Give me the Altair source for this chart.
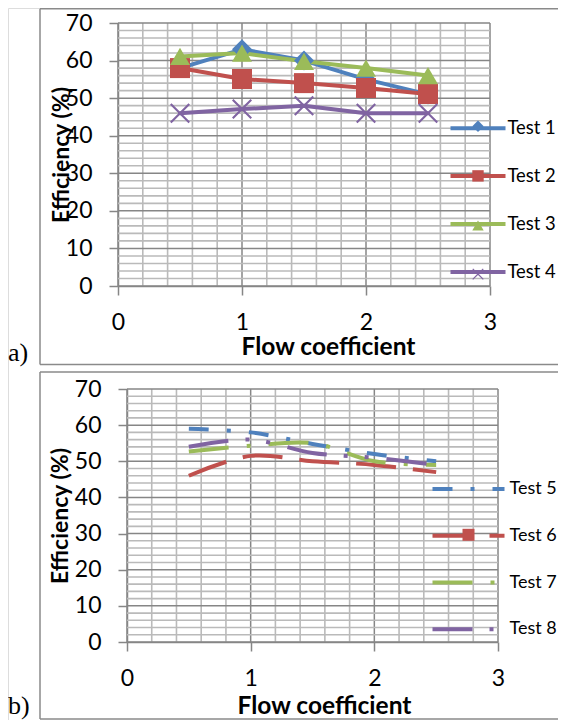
import altair as alt
import pandas as pd

# ---------------- data ----------------
FLOW = [0.5, 1.0, 1.5, 2.0, 2.5]

SERIES_A = ["Test 1", "Test 2", "Test 3", "Test 4"]
TEST_1 = [58.0, 63.0, 60.0, 55.0, 51.0]
TEST_2 = [58.0, 55.1, 54.0, 52.7, 51.1]
TEST_3 = [61.1, 62.0, 59.8, 58.0, 56.0]
TEST_4 = [46.0, 47.1, 48.0, 46.0, 46.0]

SERIES_B = ["Test 5", "Test 6", "Test 7", "Test 8"]
TEST_5 = [59.0, 58.0, 54.8, 52.0, 50.0]
TEST_6 = [46.0, 51.5, 50.0, 49.0, 47.0]
TEST_7 = [52.7, 54.3, 55.0, 50.0, 49.0]
TEST_8 = [54.0, 56.0, 52.3, 51.0, 49.0]

X_TICKS = [0, 1, 2, 3]
Y_TICKS = [0, 10, 20, 30, 40, 50, 60, 70]
X_MINOR = [0.2, 0.4, 0.6, 0.8, 1.2, 1.4, 1.6, 1.8, 2.2, 2.4, 2.6, 2.8]
Y_MINOR = [2, 4, 6, 8, 12, 14, 16, 18, 22, 24, 26, 28, 32, 34, 36, 38,
           42, 44, 46, 48, 52, 54, 56, 58, 62, 64, 66, 68]

# ---------------- styles ----------------
COLORS = ["#4F81BD", "#C0504D", "#9BBB59", "#8064A2"]
X_PATH = ("M-1,-0.85L-0.85,-1L0,-0.15L0.85,-1L1,-0.85L0.15,0L1,0.85L0.85,1"
          "L0,0.15L-0.85,1L-1,0.85L-0.15,0Z")
SHAPES = ["diamond", "square", "triangle-up", X_PATH]
DASHES = [[20, 18, 4, 18], [40, 17], [40, 18, 4, 18], [40, 17, 4, 17, 4, 18]]
MAJOR_C = "#868686"
MINOR_C = "#bababa"
FRAME_C = "#8a8a8a"
FONT = "Lato"

W, H = 550, 712                      # whole view: fits the page inside its 8px margins
TOP = dict(x0=110, x1=482, y0=278, y1=15)
BOT = dict(x0=119, x1=490, y0=634, y1=381)


def long_df(series, values):
    rows = []
    for s, vals in zip(series, values):
        for f, v in zip(FLOW, vals):
            rows.append({"flow": f, "eff": v, "series": s, "mk": s})
    return pd.DataFrame(rows)


df_a = long_df(SERIES_A, [TEST_1, TEST_2, TEST_3, TEST_4])
df_b = long_df(SERIES_B, [TEST_5, TEST_6, TEST_7, TEST_8])
one = pd.DataFrame({"k": [0]})


def scales(g):
    xs = alt.Scale(domain=[0, 3], range=[g["x0"], g["x1"]], nice=False, zero=False)
    ys = alt.Scale(domain=[0, 70], range=[g["y0"], g["y1"]], nice=False, zero=False)
    return xs, ys


def axes(g, title_x, title_y, ytitle_x):
    common = dict(grid=False, domainColor=MAJOR_C, domainWidth=1.5, tickColor=MAJOR_C,
                  tickWidth=1.5, tickSize=9, labelFont=FONT, labelFontSize=23,
                  labelColor="black", labelFlush=False, labelOverlap=False, format="d",
                  titleFont=FONT, titleFontWeight="bold",
                  titleColor="black", titleAlign="center", titleBaseline="alphabetic")
    ax_x = alt.Axis(orient="bottom", values=X_TICKS, offset=g["y0"] - H, labelPadding=16,
                    title="Flow coefficient", titleX=title_x, titleY=title_y, titleAngle=0,
                    titleFontSize=24.5, **common)
    ax_y = alt.Axis(orient="left", values=Y_TICKS, offset=-g["x0"], labelPadding=17,
                    title="Efficiency (%)", titleX=ytitle_x,
                    titleY=(g["y0"] + g["y1"]) / 2, titleAngle=270, titleFontSize=23,
                    **common)
    return ax_x, ax_y


def grid_layers(xs, ys, ax_x, ax_y):
    out = []
    for vals, color, sw in [(X_MINOR, MINOR_C, 1.6), (X_TICKS, MAJOR_C, 1.5)]:
        out.append(alt.Chart(pd.DataFrame({"v": vals})).mark_rule(color=color, strokeWidth=sw).encode(
            x=alt.X("v:Q", scale=xs, axis=ax_x),
            y=alt.YDatum(0, type="quantitative", scale=ys, axis=ax_y),
            y2=alt.Y2Datum(70)))
    for vals, color, sw in [(Y_MINOR, MINOR_C, 1.6), (Y_TICKS, MAJOR_C, 1.5)]:
        out.append(alt.Chart(pd.DataFrame({"v": vals})).mark_rule(color=color, strokeWidth=sw).encode(
            y=alt.Y("v:Q", scale=ys, axis=ax_y),
            x=alt.XDatum(0, type="quantitative", scale=xs, axis=ax_x),
            x2=alt.X2Datum(3)))
    return out


def frame_layers(top, bottom, label, label_y):
    rule = dict(color=FRAME_C, strokeWidth=1.5)
    left, right = 32, 600
    return [
        alt.Chart(one).mark_rule(**rule).encode(
            x=alt.value(left), x2=alt.value(right), y=alt.value(top)),
        alt.Chart(one).mark_rule(**rule).encode(
            x=alt.value(left), x2=alt.value(right), y=alt.value(bottom)),
        alt.Chart(one).mark_rule(**rule).encode(
            x=alt.value(left), y=alt.value(top), y2=alt.value(bottom)),
        alt.Chart(one).mark_text(text=label, font="Liberation Serif", fontSize=26,
                                 align="left", baseline="alphabetic", color="black").encode(
            x=alt.value(0), y=alt.value(label_y)),
    ]


# ---------------- panel a ----------------
xs_a, ys_a = scales(TOP)
ax_xa, ax_ya = axes(TOP, 320, 68.5, -50)

leg_line_a = alt.Legend(orient="none", legendX=458, legendY=108.2, title=None,
                        symbolType="M-2.75,0L2.75,0", symbolSize=400, symbolStrokeWidth=4,
                        labelFont=FONT, labelFontSize=18.4, labelColor="black",
                        labelOffset=17.5, rowPadding=25.9, padding=0, symbolOffset=0)
leg_mark_a = alt.Legend(orient="none", legendX=464, legendY=112.3, title=None,
                        symbolSize=130, symbolStrokeWidth=0, labelFontSize=1,
                        labelOpacity=0, rowPadding=37.6, padding=0, symbolOffset=0)

lines_a = alt.Chart(df_a).mark_line(strokeWidth=4, strokeCap="round", strokeJoin="round").encode(
    x=alt.X("flow:Q", scale=xs_a, axis=ax_xa),
    y=alt.Y("eff:Q", scale=ys_a, axis=ax_ya),
    stroke=alt.Stroke("series:N", scale=alt.Scale(range=COLORS), legend=leg_line_a))
points_a = alt.Chart(df_a).mark_point(filled=True, size=400, opacity=1).encode(
    x=alt.X("flow:Q", scale=xs_a, axis=ax_xa),
    y=alt.Y("eff:Q", scale=ys_a, axis=ax_ya),
    fill=alt.Fill("mk:N", scale=alt.Scale(range=COLORS), legend=leg_mark_a),
    shape=alt.Shape("mk:N", scale=alt.Scale(range=SHAPES), legend=leg_mark_a))

panel_a = alt.layer(*frame_layers(0.75, 356.5, "a)", 353),
                    *grid_layers(xs_a, ys_a, ax_xa, ax_ya), lines_a, points_a)

# ---------------- panel b ----------------
xs_b, ys_b = scales(BOT)
ax_xb, ax_yb = axes(BOT, 316, 71, -60)

leg_line_b = alt.Legend(orient="none", legendX=448.5, legendY=468.9, title=None,
                        symbolType="M-3.6,0L3.6,0", symbolSize=400, symbolStrokeWidth=4,
                        labelFont=FONT, labelFontSize=18, labelColor="black",
                        labelOffset=29, rowPadding=25.8, padding=0, symbolOffset=0)
leg_mark_b = alt.Legend(orient="none", legendX=454.5, legendY=472.2, title=None,
                        symbolType="square", symbolSize=144, symbolStrokeWidth=0,
                        labelFontSize=1, labelOpacity=0, rowPadding=36.6, padding=0,
                        symbolOffset=0)

lines_b = alt.Chart(df_b).mark_line(strokeWidth=4, strokeCap="butt", strokeJoin="round",
                                    interpolate="catmull-rom").encode(
    x=alt.X("flow:Q", scale=xs_b, axis=ax_xb),
    y=alt.Y("eff:Q", scale=ys_b, axis=ax_yb),
    stroke=alt.Stroke("series:N", scale=alt.Scale(range=COLORS), legend=leg_line_b),
    strokeDash=alt.StrokeDash("series:N", scale=alt.Scale(range=DASHES), legend=leg_line_b))
marker_b = alt.Chart(df_b).transform_filter("false").mark_point(
    filled=True, shape="square", size=144, opacity=1).encode(
    x=alt.X("flow:Q", scale=xs_b, axis=ax_xb),
    y=alt.Y("eff:Q", scale=ys_b, axis=ax_yb),
    fill=alt.Fill("mk:N", scale=alt.Scale(domain=SERIES_B,
                                          range=["transparent", COLORS[1], "transparent", "transparent"]),
                  legend=leg_mark_b))

panel_b = alt.layer(*frame_layers(364, 711, "b)", 706),
                    *grid_layers(xs_b, ys_b, ax_xb, ax_yb), lines_b, marker_b)

chart = alt.layer(panel_a, panel_b).resolve_scale(
    x="independent", y="independent", stroke="independent", fill="independent",
    shape="independent", strokeDash="independent"
).resolve_legend(
    stroke="independent", fill="independent", shape="independent", strokeDash="independent"
).properties(
    width=W, height=H, autosize=alt.AutoSizeParams(type="none"), padding=0
).configure_view(strokeWidth=0).configure(font=FONT)

chart.save("out.html", embed_options={"renderer": "svg", "actions": False})
